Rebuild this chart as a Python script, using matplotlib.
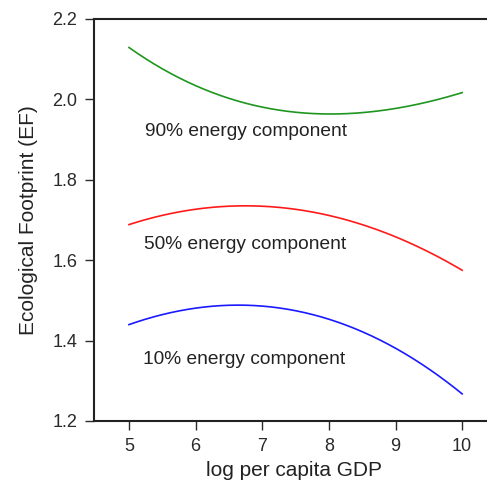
import matplotlib.pyplot as plt
import numpy as np

# log per capita GDP grid and fitted EF curves
gdp = [5.0, 5.5, 6.0, 6.5, 7.0, 7.5, 8.0, 8.5, 9.0, 9.5, 10.0]
ef_90 = [2.128, 2.078, 2.035, 2.001, 1.979, 1.969, 1.965, 1.967, 1.977, 1.994, 2.017]
ef_50 = [1.689, 1.711, 1.727, 1.733, 1.734, 1.728, 1.712, 1.689, 1.657, 1.619, 1.576]
ef_10 = [1.439, 1.466, 1.481, 1.487, 1.485, 1.474, 1.454, 1.423, 1.381, 1.328, 1.268]

labels = ["90% energy component", "50% energy component", "10% energy component"]
label_pos = [(5.24, 1.92), (5.22, 1.639), (5.21, 1.352)]
colors = ["#1f961f", "#ff1a1a", "#1a1aff"]

plt.rcParams["font.family"] = ["Liberation Sans", "DejaVu Sans"]

fig = plt.figure(figsize=(4.87, 4.82), dpi=100)
ax = fig.add_axes([0.193, 0.1266, 0.821, 0.834])

# smooth the read-off points with a cubic fit for drawing
xs = np.linspace(5, 10, 200)
for ys, c in zip([ef_90, ef_50, ef_10], colors):
    coef = np.polyfit(gdp, ys, 3)
    ax.plot(xs, np.polyval(coef, xs), color=c, lw=1.2)

for txt, (tx, ty) in zip(labels, label_pos):
    ax.text(tx, ty, txt, fontsize=13.8, color="#222222", va="center", ha="left")

ax.set_xlim(4.475, 10.475)
ax.set_ylim(1.2, 2.2)
ax.set_xticks([5, 6, 7, 8, 9, 10])
ax.set_yticks([1.2, 1.4, 1.6, 1.8, 2.0, 2.2])
ax.set_yticklabels(["1.2", "1.4", "1.6", "1.8", "2.0", "2.2"])
ax.tick_params(direction="out", length=6.5, width=1.0, labelsize=13,
               colors="#2a2a2a", pad=5.5)
ax.spines["right"].set_visible(False)
for s in ["left", "bottom", "top"]:
    ax.spines[s].set_linewidth(1.5)
    ax.spines[s].set_color("#222222")

ax.set_xlabel("log per capita GDP", fontsize=15, color="#222222", labelpad=4.5)
ax.set_ylabel("Ecological Footprint (EF)", fontsize=15, color="#222222", labelpad=10)

fig.savefig("out.png", dpi=100)
